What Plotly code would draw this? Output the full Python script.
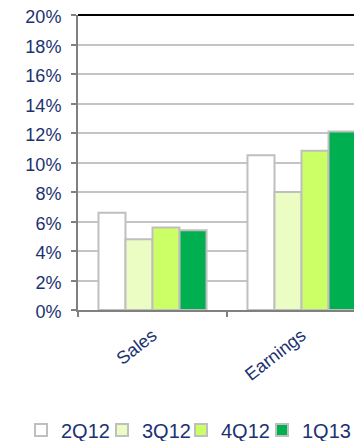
import plotly.graph_objects as go

categories = ["Sales", "Earnings"]
series_names = ["2Q12", "3Q12", "4Q12", "1Q13"]
values_2q12 = [6.6, 10.5]
values_3q12 = [4.8, 8.0]
values_4q12 = [5.6, 10.8]
values_1q13 = [5.4, 12.1]
y_tick_values = [0, 2, 4, 6, 8, 10, 12, 14, 16, 18, 20]
y_tick_labels = [f"{v}%" for v in y_tick_values]

colors = ["#FFFFFF", "#EBFDC3", "#CCFF66", "#00B050"]
series_values = [values_2q12, values_3q12, values_4q12, values_1q13]

TEXT = "#1B3272"
FONT = "Liberation Sans, Arial, sans-serif"

legend_ids = ["legend", "legend2", "legend3", "legend4"]
legend_x_px = [13, 94, 173, 254]

fig = go.Figure()
for name, vals, col, lid in zip(series_names, series_values, colors, legend_ids):
    fig.add_trace(go.Bar(
        x=categories, y=vals, name=name, legend=lid,
        marker=dict(color=col, line=dict(color="#BFBFBF", width=2)),
    ))

legend_common = dict(
    orientation="h", xref="container", yref="container",
    xanchor="left", y=19 / 441, yanchor="middle",
    font=dict(size=20, color=TEXT, family=FONT),
    itemwidth=30, bgcolor="rgba(0,0,0,0)",
)

# page body has an 8px default margin, so layout margins compensate for it
fig.update_layout(
    width=362, height=441,
    margin=dict(l=70, r=8, t=7, b=139, autoexpand=False),
    paper_bgcolor="white", plot_bgcolor="white",
    barmode="group", bargap=0.275, bargroupgap=0,
    font=dict(family=FONT, color=TEXT),
    showlegend=True,
    xaxis=dict(
        type="category", range=[-0.5, 1.406], automargin=False,
        showline=True, linecolor="#808080", linewidth=2,
        ticks="outside", tickson="boundaries", ticklen=5, tickcolor="#808080", tickwidth=2,
        showgrid=False, tickangle=-38, ticklabelstandoff=6,
        tickfont=dict(size=18, color=TEXT, family=FONT),
    ),
    yaxis=dict(
        range=[0, 20], tickvals=y_tick_values, ticktext=y_tick_labels, automargin=False,
        showline=True, linecolor="#808080", linewidth=2,
        ticks="outside", ticklen=5, tickcolor="#808080", tickwidth=2,
        showgrid=True, gridcolor="#C4C4C4", gridwidth=2,
        zeroline=False, ticklabelstandoff=6, ticklabeloverflow="allow",
        ticklabelshift=2,
        tickfont=dict(size=18, color=TEXT, family=FONT),
    ),
    shapes=[dict(type="line", xref="paper", yref="paper", x0=0, x1=1, y0=1, y1=1,
                 line=dict(color="black", width=2))],
)
for lid, xp in zip(legend_ids, legend_x_px):
    fig.update_layout({lid: dict(legend_common, x=xp / 362)})

fig.write_html("out.html")
